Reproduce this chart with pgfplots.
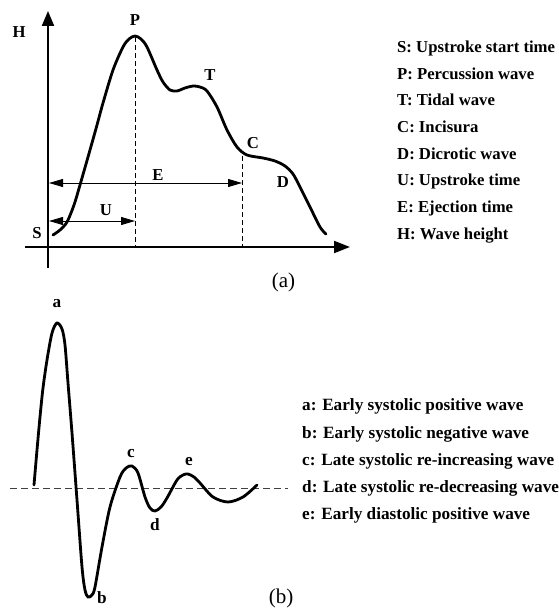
\documentclass[border=0pt]{standalone}
\usepackage{fontspec}
\setmainfont{Liberation Serif}
\usepackage{pgfplots}
\pgfplotsset{compat=1.18}
\usetikzlibrary{arrows.meta}

\begin{document}
\begin{tikzpicture}
\path[use as bounding box] (0,0) rectangle (558pt,609pt);
\begin{axis}[at={(0,0)}, anchor=south west, scale only axis,
  width=558pt, height=609pt, xmin=0, xmax=558, ymin=0, ymax=609,
  y dir=reverse, hide axis, clip=false]

% ---------- panel (a) ----------
% axes
\addplot[line width=2pt, -{Triangle[length=15pt,width=12pt]}] coordinates {(48,268) (48,11)};
\addplot[line width=2pt, -{Triangle[length=16pt,width=12pt]}] coordinates {(25,247) (350,247)};
% dashed verticals
\addplot[line width=0.8pt, dash pattern=on 5pt off 3pt] coordinates {(135,37) (135,247)};
\addplot[line width=0.8pt, dash pattern=on 5pt off 3pt] coordinates {(242,156) (242,247)};
% E and U arrows
\addplot[line width=0.9pt, {Triangle[length=14pt,width=8pt]}-{Triangle[length=14pt,width=8pt]}] coordinates {(49,183) (242,183)};
\addplot[line width=0.9pt, {Triangle[length=14pt,width=8pt]}-{Triangle[length=14pt,width=8pt]}] coordinates {(49,221) (135,221)};
% pulse wave
\addplot[line width=2.8pt, smooth, tension=0.5, line cap=round] coordinates {
(53,235) (60,230) (67,222) (74,205) (80,185) (90,150) (97,125) (103,103) (113,70)
(123,47) (129,39) (135,36) (141,39) (147,47) (157,70) (163,82) (170,90) (177,91)
(185,88) (193,86) (200,87) (207,91) (217,107) (227,130) (237,147) (247,155)
(263,158) (275,161) (285,166) (293,174) (300,187) (310,207) (320,227) (326,234)};
% labels
\begin{scope}[every node/.style={font=\fontsize{16.7}{20}\selectfont\bfseries, inner sep=0pt}]
\node at (axis cs:19,32) {H};
\node at (axis cs:135,20) {P};
\node at (axis cs:210,75) {T};
\node at (axis cs:253,143) {C};
\node at (axis cs:158,175) {E};
\node at (axis cs:106,210) {U};
\node at (axis cs:283,182) {D};
\node at (axis cs:37,233) {S};
\end{scope}
\node[font=\fontsize{21}{24}\selectfont, inner sep=0pt] at (axis cs:283.5,282) {(a)};
% legend (a)
\begin{scope}[every node/.style={font=\fontsize{16.7}{20}\selectfont\bfseries, inner sep=0pt, anchor=base west}]
\node at (axis cs:397,52.5) {S: Upstroke start time};
\node at (axis cs:397,79.2) {P: Percussion wave};
\node at (axis cs:397,105.9) {T: Tidal wave};
\node at (axis cs:397,132.6) {C: Incisura};
\node at (axis cs:397,159.3) {D: Dicrotic wave};
\node at (axis cs:397,186.0) {U: Upstroke time};
\node at (axis cs:397,212.7) {E: Ejection time};
\node at (axis cs:397,239.4) {H: Wave height};
\end{scope}

% ---------- panel (b) ----------
\addplot[line width=0.9pt, black!75, dash pattern=on 7pt off 4pt] coordinates {(10,488) (288,488)};
\addplot[line width=2.8pt, smooth, tension=0.5, line cap=round] coordinates {
(34,485) (37,450) (40,417) (43,388) (47,360) (52,333) (57,323) (62,329) (65,345)
(68,383) (72,433) (77,500) (82,567) (85,590) (88,597) (92,595) (95,587) (102,547)
(110,507) (120,477) (126,468) (132,466) (138,473) (145,497) (150,508) (155,511)
(161,507) (167,498) (177,480) (183,475) (188,474) (194,477) (200,483) (213,497)
(228,502) (243,497) (257,485)};
\begin{scope}[every node/.style={font=\fontsize{17.2}{20}\selectfont\bfseries, inner sep=0pt}]
\node at (axis cs:57,304) {a};
\node at (axis cs:102,598) {b};
\node at (axis cs:131,454) {c};
\node at (axis cs:155,525) {d};
\node at (axis cs:189,462) {e};
\end{scope}
\node[font=\fontsize{21}{24}\selectfont, inner sep=0pt] at (axis cs:281,598) {(b)};
\begin{scope}[every node/.style={font=\fontsize{17.2}{20}\selectfont\bfseries, inner sep=0pt, anchor=base west}]
\node at (axis cs:302,410.7) {a: Early systolic positive wave};
\node at (axis cs:302,438.0) {b: Early systolic negative wave};
\node at (axis cs:302,465.3) {c: Late systolic re-increasing wave};
\node at (axis cs:302,492.6) {d: Late systolic re-decreasing wave};
\node at (axis cs:302,519.9) {e: Early diastolic positive wave};
\end{scope}
\end{axis}
\end{tikzpicture}
\end{document}
